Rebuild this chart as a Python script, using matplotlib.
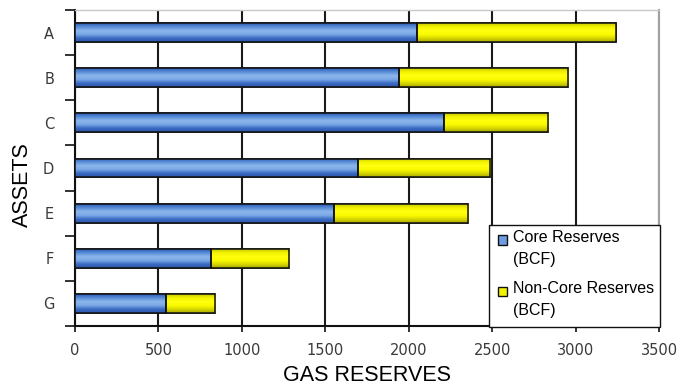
import numpy as np
import matplotlib
matplotlib.use("Agg")
import matplotlib.pyplot as plt
from matplotlib.colors import LinearSegmentedColormap
from matplotlib.patches import Rectangle

plt.rcParams['font.family'] = ['Liberation Sans', 'DejaVu Sans']

assets = ["A", "B", "C", "D", "E", "F", "G"]
core = [2050, 1940, 2210, 1695, 1550, 815, 545]
non_core = [1190, 1015, 625, 795, 805, 470, 297]
x_ticks = [0, 500, 1000, 1500, 2000, 2500, 3000, 3500]
series_names = ["Core Reserves\n(BCF)", "Non-Core Reserves\n(BCF)"]
series_colors = ["#6d9de0", "#f2f200"]

fig = plt.figure(figsize=(6.8, 3.85), dpi=100)
ax = fig.add_axes([75 / 680, 59 / 385, 584 / 680, 316 / 385])

y = np.arange(len(assets))
bar_h = 0.42
core_bars = ax.barh(y, core, height=bar_h, color=series_colors[0],
                    edgecolor="#111111", linewidth=1.1, zorder=3)
non_bars = ax.barh(y, non_core, left=core, height=bar_h, color=series_colors[1],
                   edgecolor="#111111", linewidth=1.1, zorder=3)

# vertical shading inside each bar
blue_cmap = LinearSegmentedColormap.from_list(
    "bl", ["#2d5cb4", "#5b8ed8", "#8cb6ec", "#7aa7e6", "#3c6cc4", "#2a56a8"])
yel_cmap = LinearSegmentedColormap.from_list(
    "yl", ["#c8c800", "#f4f400", "#ffff10", "#fbfb00", "#d8d800", "#a8a800"])
grad = np.linspace(0, 1, 64).reshape(-1, 1)
for bars, cmap in ((core_bars, blue_cmap), (non_bars, yel_cmap)):
    for p in bars:
        x0, y0 = p.get_x(), p.get_y()
        w, h = p.get_width(), p.get_height()
        im = ax.imshow(grad, cmap=cmap, aspect="auto", origin="upper",
                       extent=(x0, x0 + w, y0 + h, y0), zorder=3.5,
                       interpolation="bilinear")
        im.set_clip_path(p)
        ax.add_patch(Rectangle((x0, y0), w, h, fill=False, edgecolor="#111111",
                               linewidth=1.1, zorder=4))

ax.set_xlim(0, 3500)
ax.set_ylim(len(assets) - 0.5, -0.5)
ax.set_xticks(x_ticks)
ax.set_xticklabels([str(v) for v in x_ticks], fontsize=10.5, color="#3a3a3a",
                   family="DejaVu Sans")
ax.set_yticks(y)
ax.set_yticklabels(assets, fontsize=10.5, color="#3a3a3a", family="DejaVu Sans")
ax.set_yticks(np.arange(-0.5, len(assets), 1), minor=True)
ax.tick_params(axis="y", which="major", length=0, pad=15)
ax.tick_params(axis="y", which="minor", length=7, width=1.2, color="#111111")
ax.tick_params(axis="x", which="major", length=4, width=1.2, color="#111111", pad=8)

ax.grid(axis="x", color="#1a1a1a", linewidth=1.5, zorder=1)
ax.set_axisbelow(True)

ax.spines["left"].set_color("#111111")
ax.spines["left"].set_linewidth(1.5)
ax.spines["bottom"].set_color("#111111")
ax.spines["bottom"].set_linewidth(1.5)
ax.spines["top"].set_color("#c8c8c8")
ax.spines["top"].set_linewidth(1.0)
ax.spines["right"].set_color("#a0a0a0")
ax.spines["right"].set_linewidth(1.5)

ax.set_xlabel("GAS RESERVES", fontsize=15.5)
ax.xaxis.set_label_coords(0.5, -0.123)
ax.set_ylabel("ASSETS", fontsize=15.5)
ax.yaxis.set_label_coords(-0.072, 0.449)

# legend box in the lower right corner of the plot
T = ax.transAxes
ax.add_patch(Rectangle((0.709, -0.002), 0.2927, 0.3216, transform=T,
                       facecolor="white", edgecolor="#111111", linewidth=1.0,
                       zorder=10, clip_on=False))
for i, (name, col) in enumerate(zip(series_names, series_colors)):
    top = 0.2785 - i * 0.1614
    ax.add_patch(Rectangle((0.7243, top - 0.0206), 0.0154, 0.0285, transform=T,
                           facecolor=col, edgecolor="#111111", linewidth=1.0,
                           zorder=11, clip_on=False))
    first, second = name.split("\n")
    ax.text(0.750, top, first, transform=T, fontsize=11.5, va="center",
            ha="left", zorder=12)
    ax.text(0.750, top - 0.0696, second, transform=T, fontsize=11.5, va="center",
            ha="left", zorder=12)

fig.savefig("out.png", dpi=100)
